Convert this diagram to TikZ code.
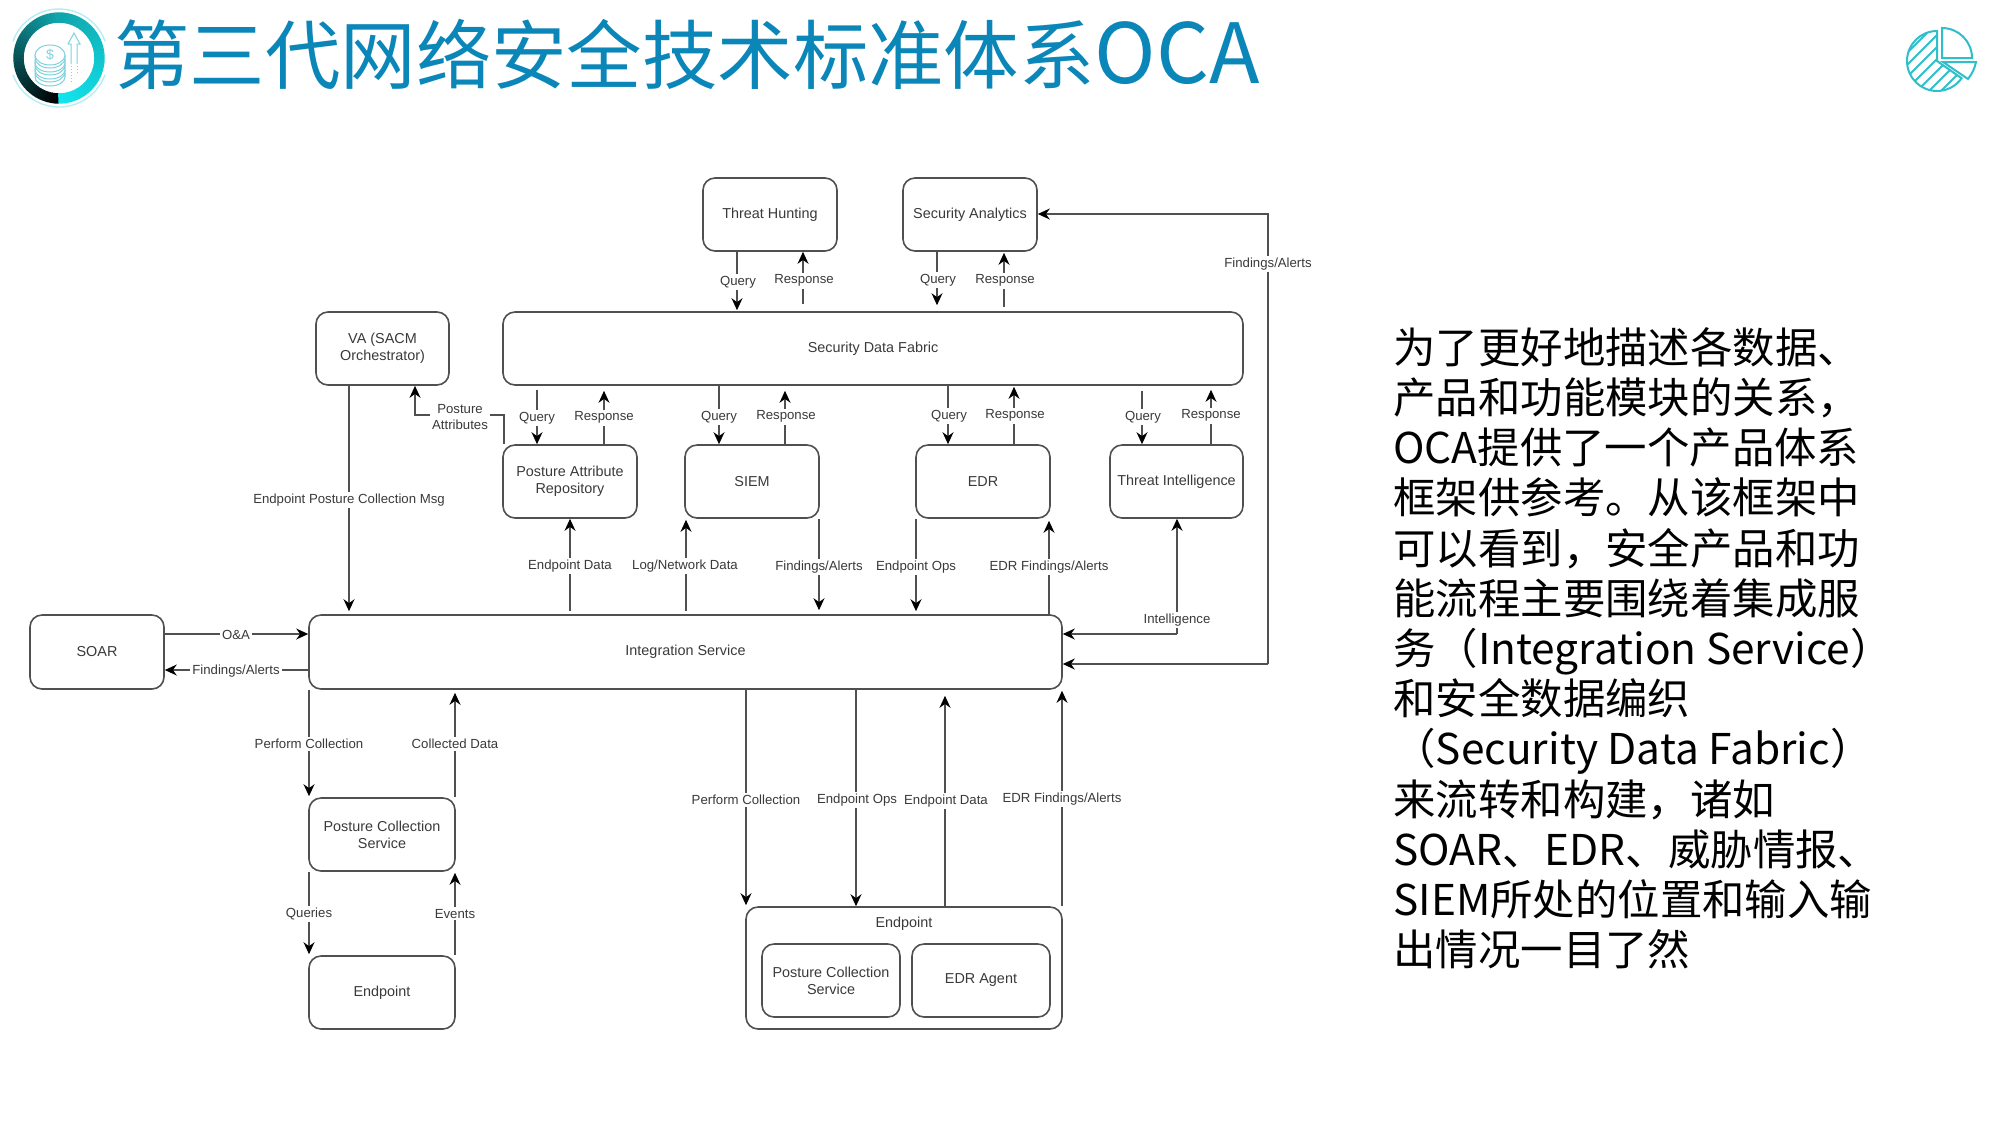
\documentclass[tikz,border=0pt]{standalone}
\usepackage{fontspec}
\setmainfont{Liberation Sans}
\newfontfamily\cjk{Noto Sans CJK SC}
\usetikzlibrary{arrows.meta,calc}
\definecolor{titleblue}{HTML}{0A86B8}
\definecolor{ringmid}{HTML}{0FA5AC}
\definecolor{ringend}{HTML}{12E4EE}
\definecolor{halo}{HTML}{B5EEF2}
\definecolor{coin}{HTML}{7FD2DC}
\definecolor{pie}{HTML}{2FBFC9}
\definecolor{lineg}{HTML}{505050}
\definecolor{txtg}{HTML}{3A3A3A}
\begin{document}
\begin{tikzpicture}[x=0.5pt,y=-0.5pt,
 bx/.style={draw=lineg,line width=0.8pt,rounded corners=6pt,fill=white,inner sep=0pt,align=center,font=\fontsize{7.2}{8.5}\selectfont,text=txtg},
 lb/.style={fill=white,inner sep=1pt,yshift=-0.4pt,font=\fontsize{6.6}{8}\selectfont,text=txtg,align=center},
 ar/.style={draw=lineg,line width=0.7pt,-{Stealth[length=6pt,width=5.5pt,black]}},
 ic/.style={draw=coin,line width=0.5pt,fill=white},
 pl/.style={draw=pie,line width=1pt,line join=miter}]
\useasboundingbox (0,0) rectangle (2000,1126);
\fill[white] (0,0) rectangle (2000,1126);
\newcommand{\bxn}[6]{\node[bx,minimum width=#4*0.5pt-#2*0.5pt,minimum height=#5*0.5pt-#3*0.5pt] (#1) at ({(#2+#4)/2},{(#3+#5)/2}) {#6};}
% vertical connector: x, from-anchor, to-anchor, gap at start, gap at end (px), label x, label y, label name, label text
\newcommand{\vc}[9]{\draw[ar,shorten <=#4*0.5pt,shorten >=#5*0.5pt] (#2 -| #1,0) -- (#3 -| #1,0);\node[lb] (#8) at (#6,#7) {#9};}
\bxn{th}{703}{178}{837}{251}{Threat Hunting}
\bxn{sa}{903}{178}{1037}{251}{Security Analytics}
\bxn{sdf}{503}{312}{1243}{385}{Security Data Fabric}
\bxn{va}{316}{312}{449}{385}{VA (SACM\\Orchestrator)}
\bxn{par}{503}{445}{637}{518}{Posture Attribute\\Repository}
\bxn{siem}{685}{445}{819}{518}{SIEM}
\bxn{edr}{916}{445}{1050}{518}{EDR}
\bxn{ti}{1110}{445}{1243}{518}{Threat Intelligence}
\bxn{is}{309}{615}{1062}{689}{Integration Service}
\bxn{soar}{30}{615}{164}{689}{SOAR}
\bxn{pcs}{309}{798}{455}{871}{Posture Collection\\Service}
\bxn{ep}{309}{956}{455}{1029}{Endpoint}
\bxn{epb}{746}{907}{1062}{1029}{}
\bxn{ipcs}{762}{944}{900}{1017}{Posture Collection\\Service}
\bxn{edra}{912}{944}{1050}{1017}{EDR Agent}
\node[inner sep=0pt,font=\fontsize{7.2}{8.5}\selectfont,text=txtg] (eplabel) at (904,924) {Endpoint};
% title
\node[anchor=west,inner sep=0pt,text=titleblue,font=\cjk\fontsize{37.7}{40}\selectfont] (title) at (114,54) {第三代网络安全技术标准体系{\fontsize{41.5}{40}\selectfont OCA}};
% right paragraph
\node[anchor=north west,inner sep=0pt,text=black,font=\cjk\fontsize{21.2}{25.1}\selectfont,align=left] (para) at (1393,327) {为了更好地描述各数据、\\产品和功能模块的关系，\\OCA提供了一个产品体系\\框架供参考。从该框架中\\可以看到，安全产品和功\\能流程主要围绕着集成服\\务（Integration Service）\\和安全数据编织\\（Security Data Fabric）\\来流转和构建，诸如\\SOAR、EDR、威胁情报、\\SIEM所处的位置和输入输\\出情况一目了然};
% connectors: top row
\vc{737}{th.south}{sdf.north}{0}{1}{738}{281}{l1}{Query}
\vc{803}{sdf.north}{th.south}{7}{0}{804}{280}{l2}{Response}
\vc{937}{sa.south}{sdf.north}{0}{6}{938}{279}{l3}{Query}
\vc{1004}{sdf.north}{sa.south}{4}{1}{1005}{280}{l4}{Response}
% fabric to products
\vc{537}{sdf.south}{par.north}{4}{0}{537}{417}{l5}{Query}
\vc{604}{par.north}{sdf.south}{0}{5}{604}{417}{l6}{Response}
\vc{719}{sdf.south}{siem.north}{0}{0}{719}{416}{l7}{Query}
\vc{785}{siem.north}{sdf.south}{0}{5}{786}{416}{l8}{Response}
\vc{948}{sdf.south}{edr.north}{0}{0}{949}{415}{l9}{Query}
\vc{1014}{edr.north}{sdf.south}{0}{1}{1015}{415}{l10}{Response}
\vc{1142}{sdf.south}{ti.north}{5}{0}{1143}{416}{l11}{Query}
\vc{1211}{ti.north}{sdf.south}{0}{4}{1211}{415}{l12}{Response}
% VA
\vc{349}{va.south}{is.north}{0}{3}{349}{499}{l13}{Endpoint Posture Collection Msg}
\draw[ar] (par.north west -| 504,0) -- (504,415) -- (415,415) -- (va.south -| 415,0);
\node[lb] (l14) at (460,416) {Posture\\Attributes};
% products to integration
\vc{570}{is.north}{par.south}{3}{0}{570}{565}{l15}{Endpoint Data}
\vc{686}{is.north}{siem.south}{3}{1}{685}{565}{l16}{Log/Network Data}
\vc{819}{siem.south}{is.north}{0}{4}{819}{566}{l17}{Findings/Alerts}
\vc{916}{edr.south}{is.north}{0}{3}{916}{566}{l18}{Endpoint Ops}
\vc{1049}{is.north}{edr.south}{0}{2}{1049}{566}{l19}{EDR Findings/Alerts}
% intelligence
\coordinate (ic) at (1177,634);
\draw[ar] (ic) -- (ti.south -| ic);
\draw[ar] (ic) -- (is.east |- ic);
\node[lb] (l20) at (1177,619) {Intelligence};
% long findings/alerts
\coordinate (fa) at (1268,664);
\coordinate (fb) at (1268,214);
\draw[ar] (fa) -- (fb) -- (sa.east |- fb);
\draw[ar] (fa) -- (is.east |- fa);
\node[lb] (l21) at (1268,263) {Findings/Alerts};
% SOAR
\draw[ar] (soar.east |- 0,634) -- (is.west |- 0,634);
\node[lb] (l22) at (236,634) {O\&A};
\draw[ar] (is.west |- 0,670) -- (soar.east |- 0,670);
\node[lb] (l23) at (236,670) {Findings/Alerts};
% lower left
\vc{309}{is.south}{pcs.north}{0}{1}{309}{743}{l24}{Perform Collection}
\vc{455}{pcs.north}{is.south}{0}{3}{455}{743}{l25}{Collected Data}
\vc{309}{pcs.south}{ep.north}{0}{1}{309}{913}{l26}{Queries}
\vc{455}{ep.north}{pcs.south}{0}{1}{455}{913}{l27}{Events}
% lower right
\vc{746}{is.south}{epb.north}{0}{1}{746}{799}{l28}{Perform Collection}
\vc{856}{is.south}{epb.north}{0}{0}{857}{799}{l29}{Endpoint Ops}
\vc{945}{epb.north}{is.south}{0}{6}{946}{800}{l30}{Endpoint Data}
\vc{1062}{epb.north}{is.south}{0}{1}{1062}{798}{l31}{EDR Findings/Alerts}
% logo ring
\foreach \i in {0,...,71}{
  \pgfmathsetmacro{\aa}{90+\i*5}
  \pgfmathsetmacro{\ab}{90+\i*5+6}
  \ifnum\i<36
    \pgfmathsetmacro{\p}{100*\i/35}
    \colorlet{segc}{ringmid!\p!black}
  \else
    \pgfmathsetmacro{\p}{100*(\i-36)/35}
    \colorlet{segc}{ringend!\p!ringmid}
  \fi
  \draw[segc,line width=5.2pt] ({59+40.5*cos(\aa)},{58+40.5*sin(\aa)}) -- ({59+40.5*cos(\ab)},{58+40.5*sin(\ab)});
}
\draw[halo,line width=0.7pt] ({59+49*cos(200)},{58+49*sin(200)}) arc[start angle=200,end angle=340,radius=49];
\draw[halo,line width=0.7pt] ({59+49*cos(20)},{58+49*sin(20)}) arc[start angle=20,end angle=160,radius=49];
% logo coins
\foreach \yy in {72,65,58}{\draw[ic] (35,\yy) arc[start angle=180,end angle=0,x radius=15,y radius=10] -- (65,\yy+5) arc[start angle=0,end angle=180,x radius=15,y radius=9] -- cycle;}
\draw[ic] (50,55) ellipse[x radius=15,y radius=10];
\node[inner sep=0pt,text=coin,font=\fontsize{7}{8}\selectfont] (dollar) at (50,55) {\$};
% logo arrow
\draw[coin,line width=0.5pt,line join=miter] (68,44) -- (74,33) -- (80,44) -- (77,44) -- (77,64) (71,64) -- (71,44) -- (68,44);
\draw[coin,line width=0.5pt,densely dotted] (71,66) -- (71,82) (77,66) -- (77,74);
% pie icon
\begin{scope}
\clip (1937,61) -- (1937,31) arc[start angle=270,end angle=35,radius=30] -- cycle;
\foreach \q in {1860,1872,...,2020}{\draw[pie,line width=1pt] (\q,100) -- (\q+70,30);}
\end{scope}
\draw[pl] (1937,61) -- (1937,31) arc[start angle=270,end angle=35,radius=30] -- cycle;
\draw[pl] (1942,58) -- (1942,28) arc[start angle=270,end angle=360,radius=30] -- cycle;
\draw[pl] (1943,62) -- (1976,62) to[bend left=12] (1968,79) -- cycle;
\end{tikzpicture}
\end{document}
